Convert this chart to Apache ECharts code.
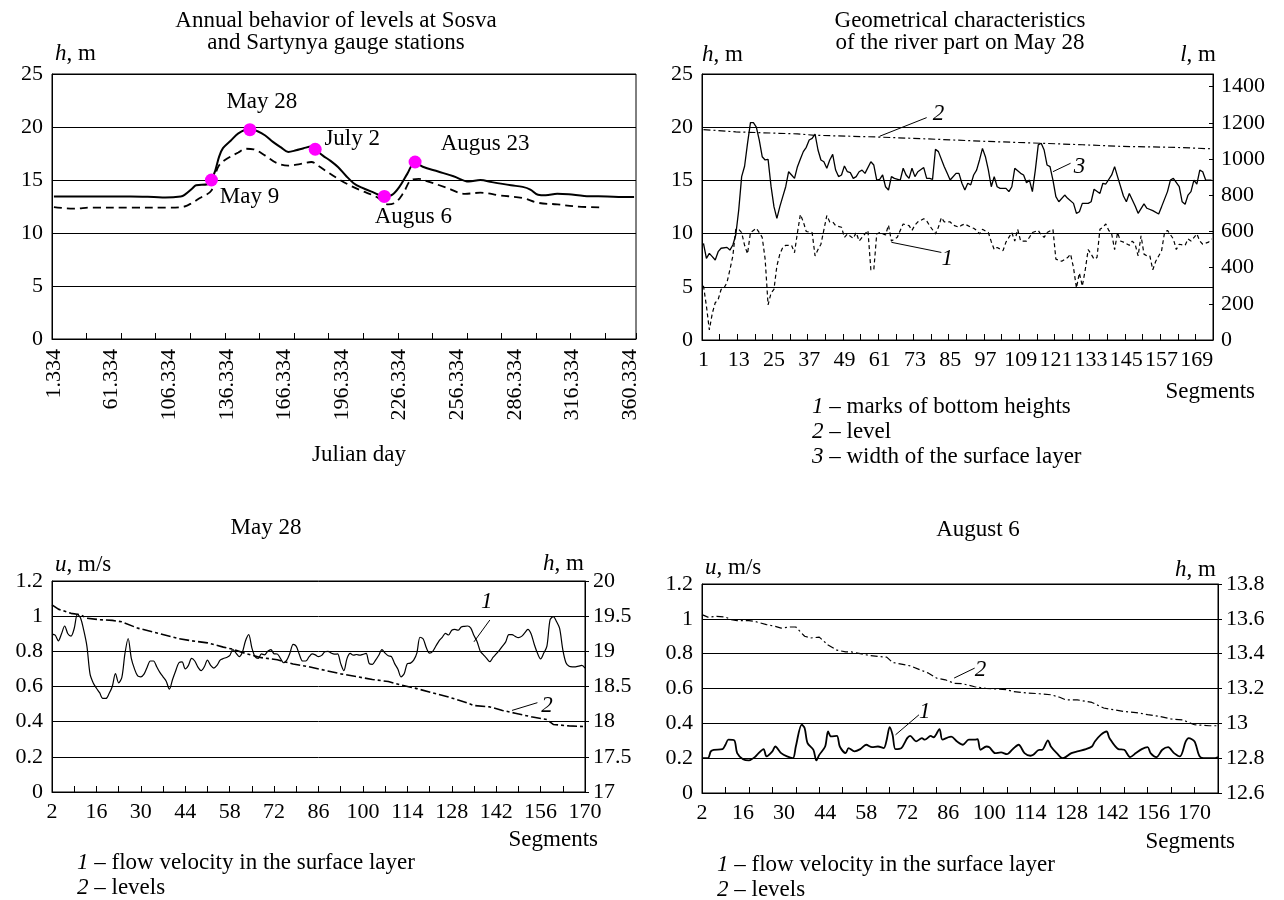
<!DOCTYPE html>
<html><head><meta charset="utf-8">
<script src="https://cdn.jsdelivr.net/npm/echarts@6/dist/echarts.min.js"></script>
<style>html,body{margin:0;padding:0;background:#fff}#c{width:1284px;height:900px}</style>
</head><body><div id="c"></div>
<script>
// ================= DATA =================
// Top-left: annual levels (category index, level h m)
const tlTickLabels = ['1.334','61.334','106.334','136.334','166.334','196.334','226.334','256.334','286.334','316.334','360.334'];
const tlCategoryCount = 152;
const tlSosva = [[0,13.45],[10,13.45],[20,13.45],[26,13.4],[29,13.36],[33,13.45],[34,13.6],[36,14.2],[37,14.5],[40,14.6],[41,15.0],[42,15.9],[43,17.2],[44,18.0],[46,18.7],[48,19.4],[51,19.8],[53,19.6],[55,19.2],[57,18.6],[59,18.1],[61,17.65],[63,17.8],[65,18.0],[67,18.15],[68,17.9],[70,17.3],[72,16.8],[74,16.2],[76,15.4],[78,14.7],[80,14.3],[83,13.85],[86,13.45],[88,13.6],[90,14.4],[92,15.6],[94,16.7],[96,16.25],[100,15.8],[104,15.35],[108,14.85],[111,15.0],[114,14.8],[119,14.5],[122,14.35],[124,14.1],[126,13.6],[128,13.55],[131,13.7],[134,13.65],[138,13.5],[144,13.45],[148,13.4],[151,13.4]];
const tlSartynya = [[0,12.45],[5,12.3],[10,12.4],[20,12.4],[30,12.4],[34,12.5],[36,12.85],[38,13.3],[41,14.0],[42,15.5],[43,16.4],[45,17.0],[48,17.6],[50,17.95],[52,17.9],[55,17.3],[58,16.6],[61,16.35],[64,16.5],[67,16.7],[69,16.3],[71,15.8],[74,15.1],[77,14.5],[80,14.0],[84,13.4],[87,12.7],[89,12.9],[91,13.8],[93,15.0],[95,15.1],[97,14.9],[102,14.3],[107,13.7],[111,13.8],[116,13.55],[122,13.3],[126,12.85],[131,12.7],[136,12.5],[143,12.4]];
const tlEventIdx = [41,51,68,86,94];
const tlEventLevels = [15.0,19.75,17.9,13.45,16.7];
const tlEventNames = ['May 9','May 28','July 2','Augus 6','Augus 23'];

// Top-right: geometry on May 28 ([segment, value])
const trSegmentCount = 174;
const trBottom = [[1,5.1],[2,3.2],[3,0.95],[4,2.5],[5,3.5],[6,3.8],[7,4.75],[8,4.9],[9,5.4],[10,6.6],[11,7.9],[12,10.4],[13,10.4],[14,10.1],[15,8.9],[16,8.1],[17,10.1],[18,10.3],[19,10.5],[20,10.1],[21,9.65],[22,7.6],[23,3.3],[24,4.4],[25,4.75],[26,6.96],[27,8.07],[28,8.7],[29,8.9],[30,8.9],[31,8.9],[32,8.2],[33,10.1],[34,11.8],[35,11.1],[36,10.2],[38,10.1],[39,7.9],[40,8.5],[41,9.0],[43,11.7],[44,11.1],[45,11.1],[46,10.75],[48,10.6],[49,9.65],[50,9.97],[52,9.55],[53,10.1],[54,9.3],[56,9.97],[57,10.3],[58,6.6],[59,6.6],[60,9.97],[61,10.1],[63,9.87],[64,10.8],[65,9.3],[67,9.65],[68,10.3],[69,10.9],[71,10.75],[72,10.3],[73,10.8],[74,11.1],[76,11.4],[77,11.2],[78,10.75],[80,9.97],[81,10.6],[82,11.5],[83,11.1],[85,11.1],[86,10.8],[88,10.6],[89,10.8],[90,10.9],[92,10.6],[93,10.5],[94,10.3],[95,9.97],[96,10.4],[98,10.1],[99,9.24],[100,8.5],[101,8.7],[103,8.4],[104,9.2],[105,9.65],[106,10.1],[107,9.3],[108,10.4],[109,9.3],[111,9.3],[112,9.65],[113,10.1],[115,10.3],[116,9.87],[117,9.65],[118,10.1],[120,10.4],[121,7.6],[123,7.4],[125,7.75],[126,8.07],[127,6.8],[128,4.9],[129,6.3],[130,5.06],[131,6.6],[132,8.5],[133,8.07],[134,7.6],[135,7.75],[136,10.4],[137,10.6],[138,10.9],[139,10.3],[140,9.97],[141,8.5],[142,10.1],[143,9.3],[144,9.2],[146,8.9],[147,9.3],[148,9.0],[149,7.9],[150,9.8],[151,8.07],[152,7.9],[153,7.9],[154,6.6],[155,7.4],[157,8.4],[158,10.1],[159,10.3],[161,9.5],[162,8.5],[163,9.0],[165,8.9],[166,9.5],[167,9.3],[169,9.97],[170,9.3],[171,9.0],[173,9.2],[174,9.5]];
const trLevel = [[1,19.78],[12,19.56],[33,19.37],[39,19.24],[60,19.08],[77,18.9],[97,18.67],[117,18.48],[130,18.35],[143,18.2],[162,18.1],[174,17.97]];
const trWidth = [[1,534],[2,451],[3,479],[4,461],[5,442],[6,488],[7,507],[9,512],[10,497],[11,525],[12,580],[13,718],[14,903],[15,960],[16,1087],[17,1201],[18,1201],[19,1177],[20,1105],[21,1013],[22,995],[23,998],[24,850],[25,737],[26,672],[27,737],[28,792],[29,847],[30,930],[31,912],[32,893],[33,958],[34,1000],[35,1041],[36,1065],[37,1105],[38,1114],[39,1138],[40,1050],[41,995],[42,985],[43,949],[44,995],[45,1026],[46,939],[47,903],[48,912],[49,962],[50,930],[51,925],[52,893],[53,903],[54,930],[55,939],[56,921],[58,985],[59,967],[60,884],[61,888],[62,912],[63,847],[64,829],[65,903],[66,893],[68,884],[69,949],[70,912],[71,893],[72,949],[73,903],[74,930],[76,953],[77,893],[78,893],[79,888],[80,1054],[81,1041],[83,958],[84,921],[85,884],[87,921],[88,921],[89,866],[90,829],[91,866],[92,857],[93,912],[94,939],[95,995],[96,1059],[97,1013],[98,940],[99,847],[100,903],[101,847],[102,838],[104,838],[105,820],[106,847],[107,949],[109,921],[110,912],[111,869],[112,884],[113,820],[114,939],[115,1078],[116,1087],[117,1050],[118,967],[119,958],[120,884],[121,792],[122,764],[124,801],[125,783],[127,755],[128,700],[129,709],[130,755],[132,755],[133,764],[134,833],[136,810],[137,866],[138,862],[140,912],[141,958],[142,903],[144,796],[145,764],[146,810],[148,740],[149,700],[151,752],[152,728],[154,715],[156,696],[157,737],[159,820],[160,884],[161,893],[163,847],[164,764],[165,750],[166,801],[167,820],[168,884],[169,862],[170,939],[171,930],[172,884],[174,884]];

// Bottom-left: May 28, segments 2..170
const blFirstSegment = 2, blLastSegment = 170;
const blVelocity = [0.898,0.892,0.86,0.9,0.944,0.9,0.887,0.93,1.01,0.99,
 0.92,0.83,0.67,0.62,0.59,0.565,0.532,0.532,0.56,0.6,
 0.674,0.621,0.65,0.788,0.873,0.76,0.7,0.66,0.655,0.67,
 0.71,0.745,0.745,0.712,0.68,0.655,0.63,0.585,0.64,0.69,
 0.735,0.74,0.7,0.72,0.76,0.745,0.71,0.69,0.712,0.75,
 0.72,0.705,0.72,0.75,0.759,0.765,0.775,0.81,0.79,0.77,
 0.795,0.86,0.895,0.82,0.77,0.76,0.785,0.78,0.8,0.81,
 0.786,0.785,0.76,0.735,0.75,0.79,0.84,0.828,0.78,0.745,
 0.745,0.768,0.785,0.78,0.77,0.777,0.797,0.8,0.79,0.784,
 0.785,0.73,0.69,0.76,0.788,0.778,0.782,0.778,0.783,0.788,
 0.73,0.726,0.75,0.778,0.81,0.79,0.775,0.77,0.73,0.7,
 0.655,0.672,0.73,0.733,0.75,0.79,0.88,0.87,0.82,0.79,
 0.8,0.83,0.86,0.88,0.902,0.893,0.92,0.925,0.92,0.938,
 0.942,0.944,0.932,0.89,0.855,0.8,0.78,0.76,0.741,0.765,
 0.785,0.806,0.83,0.854,0.895,0.895,0.885,0.878,0.885,0.905,
 0.925,0.9,0.84,0.79,0.757,0.79,0.83,0.98,0.997,0.97,
 0.93,0.81,0.735,0.715,0.712,0.712,0.716,0.72,0.705];
const blLevel = [[2,19.66],[4,19.6],[8,19.54],[11,19.52],[13,19.47],[17,19.45],[21,19.44],[24,19.42],[29,19.33],[36,19.25],[42,19.18],[46,19.15],[51,19.12],[56,19.06],[59,19.03],[63,18.97],[68,18.91],[73,18.88],[78,18.82],[83,18.78],[88,18.73],[93,18.68],[98,18.64],[103,18.6],[108,18.57],[112,18.52],[117,18.47],[122,18.41],[127,18.35],[132,18.28],[135,18.23],[140,18.21],[144,18.16],[148,18.12],[153,18.07],[158,18.03],[160,17.96],[165,17.94],[170,17.93]];

// Bottom-right: August 6, segments 2..178
const brFirstSegment = 2, brLastSegment = 178;
const brVelocity = [[2,0.2],[4,0.2],[5,0.239],[6,0.248],[9,0.252],[10,0.277],[11,0.306],[13,0.302],[14,0.229],[16,0.194],[18,0.187],[20,0.206],[21,0.223],[23,0.252],[24,0.21],[26,0.239],[27,0.267],[29,0.229],[31,0.21],[33,0.2],[34,0.267],[36,0.392],[37,0.373],[38,0.286],[40,0.248],[41,0.187],[42,0.219],[44,0.267],[45,0.353],[46,0.325],[48,0.328],[49,0.267],[51,0.229],[52,0.258],[54,0.239],[56,0.252],[58,0.277],[60,0.263],[62,0.267],[64,0.258],[65,0.306],[66,0.378],[67,0.334],[68,0.252],[70,0.258],[72,0.315],[73,0.328],[75,0.296],[77,0.315],[78,0.306],[80,0.328],[81,0.32],[83,0.367],[84,0.306],[86,0.32],[87,0.324],[89,0.296],[91,0.277],[93,0.306],[95,0.306],[96,0.309],[97,0.248],[99,0.267],[100,0.263],[102,0.229],[104,0.233],[106,0.223],[108,0.252],[110,0.277],[112,0.229],[114,0.214],[115,0.219],[117,0.248],[118,0.248],[120,0.302],[121,0.267],[123,0.229],[125,0.2],[126,0.206],[128,0.229],[130,0.239],[133,0.252],[135,0.267],[136,0.296],[138,0.334],[140,0.353],[141,0.315],[144,0.252],[146,0.248],[148,0.206],[150,0.229],[152,0.252],[154,0.263],[155,0.229],[157,0.206],[159,0.248],[161,0.263],[163,0.229],[165,0.21],[167,0.296],[168,0.315],[170,0.296],[172,0.206],[175,0.2],[177,0.2],[178,0.206]];
const brLevel = [[2,13.624],[4,13.61],[7,13.614],[10,13.61],[12,13.595],[14,13.59],[18,13.59],[20,13.585],[24,13.567],[27,13.557],[29,13.547],[32,13.553],[34,13.553],[37,13.5],[39,13.49],[42,13.495],[45,13.45],[48,13.42],[51,13.41],[53,13.41],[56,13.4],[59,13.39],[62,13.384],[65,13.38],[67,13.35],[70,13.34],[73,13.33],[76,13.31],[79,13.29],[82,13.26],[85,13.25],[88,13.23],[91,13.227],[95,13.21],[99,13.2],[103,13.197],[106,13.193],[108,13.183],[113,13.174],[117,13.17],[121,13.164],[124,13.15],[126,13.135],[130,13.135],[135,13.12],[139,13.088],[141,13.082],[146,13.068],[150,13.062],[154,13.05],[158,13.04],[162,13.025],[166,13.02],[168,13.005],[170,12.992],[175,12.986],[178,12.986]];

// Curve-number annotations (data space: [segment, value]) and leader lines
const trNoteText = ['1','2','3'];
const trNoteAt = [[84,7.6],[81,21.2],[129,16.3]];
const trLeaders = [[[65,9.18],[82,8.23]],[[61,19.15],[77,20.9]],[[120,15.82],[126,16.61]]];
const blNoteVText = '1', blNoteVAt = [139,1.082], blLeaderV = [[135,0.854],[140,0.978]];
const blNoteHText = '2', blNoteHAt = [158,18.23], blLeaderH = [[147,18.16],[155,18.27]];
const brNoteVText = '1', brNoteVAt = [78,0.468], brLeaderV = [[68,0.334],[76,0.449]];
const brNoteHText = '2', brNoteHAt = [97,13.308], brLeaderH = [[88,13.26],[95,13.317]];

// ================= CHART =================
const FONT = '"Liberation Serif","Times New Roman",serif';
const K = '#000';
const FS = 22;     // axis tick labels
const TS = 23;     // other texts
const tlCategories = Array.from({length: tlCategoryCount}, (_, i) => i % 15 === 0 ? tlTickLabels[i / 15] : '');
const trCategories = Array.from({length: trSegmentCount}, (_, i) => String(i + 1));
const blCategories = Array.from({length: blLastSegment - blFirstSegment + 1}, (_, i) => String(i + blFirstSegment));
const brCategories = Array.from({length: brLastSegment - brFirstSegment + 1}, (_, i) => String(i + brFirstSegment));
const toIdx = (arr, first) => arr.map(([s, v]) => [s - first, v]);
const ptIdx = (p, first) => [p[0] - first, p[1]];

const lab = (extra) => Object.assign({color: K, fontSize: FS, fontFamily: FONT, formatter: (v) => String(v)}, extra || {});
const gridBase = {show: true, borderColor: K, borderWidth: 1, backgroundColor: 'transparent', containLabel: false, outerBoundsMode: 'none'};

function xCat(gridIndex, data, boundaryGap, tickInterval, labelInterval, extraLabel) {
  return {gridIndex, type: 'category', data, boundaryGap,
    axisLine: {show: true, lineStyle: {color: K, width: 1}},
    axisTick: {show: true, inside: true, length: 6, interval: tickInterval, lineStyle: {color: K}},
    axisLabel: lab(Object.assign({interval: labelInterval, margin: 9}, extraLabel || {})),
    splitLine: {show: false}};
}
function yVal(gridIndex, min, max, interval, position, grid, extra) {
  const o = {gridIndex, type: 'value', min, max, interval, position,
    axisLine: {show: true, lineStyle: {color: K, width: 1}},
    axisTick: {show: false},
    axisLabel: lab({margin: 9}),
    splitLine: {show: grid, lineStyle: {color: K, width: 1, type: 'solid'}}};
  if (extra) { for (const k in extra) o[k] = Object.assign({}, o[k], extra[k]); }
  return o;
}
const solid = (w) => ({color: K, width: w, type: 'solid'});
const line = (xi, yi, data, ls, smooth) => ({type: 'line', xAxisIndex: xi, yAxisIndex: yi, data, showSymbol: false, symbol: 'none', smooth: smooth || false, lineStyle: ls, z: 3});
const notes = (xi, yi, texts, pts, leaders) => ({
  type: 'scatter', xAxisIndex: xi, yAxisIndex: yi, symbolSize: 1, itemStyle: {color: 'rgba(0,0,0,0)', opacity: 1}, z: 5,
  data: pts.map((p, i) => ({value: p, name: texts[i]})),
  label: {show: true, position: 'inside', formatter: '{b}', color: K, fontSize: TS, fontStyle: 'italic', fontFamily: FONT},
  emphasis: {disabled: true},
  markLine: {silent: true, symbol: ['none', 'none'], label: {show: false}, lineStyle: {color: K, width: 1, type: 'solid', opacity: 1},
    data: leaders.map(l => [{coord: l[0]}, {coord: l[1]}])}
});

const tlLabelOffsets = [[38,17],[12,-28],[37,-10],[29,21],[70,-18]];

const option = {
  animation: false,
  backgroundColor: '#fff',
  grid: [
    Object.assign({left: 52, top: 74, width: 584, height: 265}, gridBase),
    Object.assign({left: 702, top: 74, width: 511, height: 266}, gridBase),
    Object.assign({left: 52, top: 581, width: 533, height: 211}, gridBase),
    Object.assign({left: 702, top: 584, width: 516, height: 209}, gridBase)
  ],
  xAxis: [
    xCat(0, tlCategories, true, 8, 14, {rotate: 90, margin: 10}),
    xCat(1, trCategories, true, 5, 11, {margin: 9}),
    xCat(2, blCategories, false, 6, 13, {margin: 9}),
    xCat(3, brCategories, false, 7, 13, {margin: 9})
  ],
  yAxis: [
    yVal(0, 0, 25, 5, 'left', true),
    yVal(1, 0, 25, 5, 'left', true),
    yVal(1, 0, 1470, 200, 'right', false, {axisTick: {show: true, inside: true, length: 4, lineStyle: {color: K}}, axisLabel: {showMaxLabel: false, margin: 8}}),
    yVal(2, 0, 1.2, 0.2, 'left', true),
    yVal(2, 17, 20, 0.5, 'right', false, {axisTick: {show: true, inside: false, length: 4, lineStyle: {color: K}}, axisLabel: {margin: 8}}),
    yVal(3, 0, 1.2, 0.2, 'left', true),
    yVal(3, 12.6, 13.8, 0.2, 'right', false, {axisTick: {show: true, inside: false, length: 4, lineStyle: {color: K}}, axisLabel: {margin: 8}})
  ],
  series: [
    // top-left
    line(0, 0, tlSosva, solid(2), 0.35),
    line(0, 0, tlSartynya, {color: K, width: 1.8, type: [8, 5]}, 0.35),
    {type: 'scatter', xAxisIndex: 0, yAxisIndex: 0, symbolSize: 13, z: 6,
     itemStyle: {color: '#ff00ff', opacity: 1},
     emphasis: {disabled: true},
     data: tlEventIdx.map((x, i) => ({value: [x, tlEventLevels[i]], name: tlEventNames[i],
       label: {offset: tlLabelOffsets[i]}})),
     label: {show: true, position: 'inside', formatter: '{b}', color: K, fontSize: TS, fontFamily: FONT, align: 'center', verticalAlign: 'middle'}},
    // top-right
    line(1, 1, toIdx(trBottom, 1), {color: K, width: 1.2, type: [4, 3]}),
    line(1, 1, toIdx(trLevel, 1), {color: K, width: 1.2, type: [7, 3, 2, 3]}),
    line(1, 2, toIdx(trWidth, 1), solid(1.3)),
    notes(1, 1, trNoteText, trNoteAt.map(p => ptIdx(p, 1)), trLeaders.map(l => l.map(p => ptIdx(p, 1)))),
    // bottom-left
    line(2, 3, blVelocity, solid(1.2), 0.3),
    line(2, 4, toIdx(blLevel, blFirstSegment), {color: K, width: 1.6, type: [10, 3, 3, 3]}),
    notes(2, 3, [blNoteVText], [ptIdx(blNoteVAt, blFirstSegment)], [blLeaderV.map(p => ptIdx(p, blFirstSegment))]),
    notes(2, 4, [blNoteHText], [ptIdx(blNoteHAt, blFirstSegment)], [blLeaderH.map(p => ptIdx(p, blFirstSegment))]),
    // bottom-right
    line(3, 5, toIdx(brVelocity, brFirstSegment), solid(1.8), 0.3),
    line(3, 6, toIdx(brLevel, brFirstSegment), {color: K, width: 1.2, type: [7, 3, 2, 3]}),
    notes(3, 5, [brNoteVText], [ptIdx(brNoteVAt, brFirstSegment)], [brLeaderV.map(p => ptIdx(p, brFirstSegment))]),
    notes(3, 6, [brNoteHText], [ptIdx(brNoteHAt, brFirstSegment)], [brLeaderH.map(p => ptIdx(p, brFirstSegment))])
  ]
};

const texts = [
  [336, 21, 'Annual behavior of levels at Sosva', 'center'],
  [336, 43, 'and Sartynya gauge stations', 'center'],
  [55, 54, '{i|h}, m', 'left'],
  [359, 455, 'Julian day', 'center'],
  [960, 21, 'Geometrical characteristics', 'center'],
  [960, 43, 'of the river part on May 28', 'center'],
  [702, 55, '{i|h}, m', 'left'],
  [1216, 55, '{i|l}, m', 'right'],
  [1255, 392, 'Segments', 'right'],
  [812, 407, '{i|1} – marks of bottom heights', 'left'],
  [812, 432, '{i|2} – level', 'left'],
  [812, 457, '{i|3} – width of the surface layer', 'left'],
  [266, 528, 'May 28', 'center'],
  [55, 565, '{i|u}, m/s', 'left'],
  [584, 564, '{i|h}, m', 'right'],
  [598, 840, 'Segments', 'right'],
  [77, 863, '{i|1} – flow velocity in the surface layer', 'left'],
  [77, 888, '{i|2} – levels', 'left'],
  [978, 530, 'August 6', 'center'],
  [705, 568, '{i|u}, m/s', 'left'],
  [1216, 570, '{i|h}, m', 'right'],
  [1235, 842, 'Segments', 'right'],
  [717, 865, '{i|1} – flow velocity in the surface layer', 'left'],
  [717, 890, '{i|2} – levels', 'left']
];
option.graphic = texts.map(([x, y, t, a]) => ({
  type: 'text', x, y, silent: true,
  style: {text: t, fill: K, fontSize: TS, fontFamily: FONT, align: a, verticalAlign: 'middle',
    rich: {i: {fontStyle: 'italic', fontSize: TS, fontFamily: FONT, fill: K}}}
}));

const chart = echarts.init(document.getElementById('c'), null, {renderer: 'canvas'});
chart.setOption(option);
</script>
</body></html>
